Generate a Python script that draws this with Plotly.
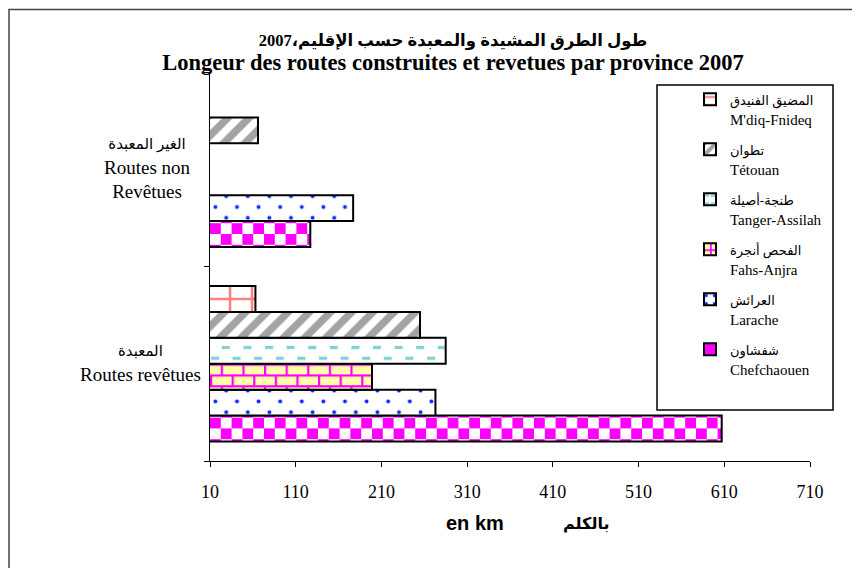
import plotly.graph_objects as go

# ---------------- data ----------------
categories = ["Routes revêtues", "Routes non Revêtues"]
category_ar = ["المعبدة", "الغير المعبدة"]
category_fr = ["Routes revêtues", "Routes non<br>Revêtues"]
provinces_fr = ["Chefchaouen", "Larache", "Fahs-Anjra", "Tanger-Assilah", "Tétouan", "M'diq-Fnideq"]
provinces_ar = ["شفشاون", "العرائش", "الفحص أنجرة", "طنجة-أصيلة", "تطوان", "المضيق الفنيدق"]
paved_km = [607, 273, 199, 285, 255, 63]
unpaved_km = [127, 177, None, None, 66, None]
x_ticks = [10, 110, 210, 310, 410, 510, 610, 710]

title_ar = "طول الطرق المشيدة والمعبدة حسب الإقليم،2007"
title_fr = "Longeur des routes construites et revetues par province 2007"

# ---------------- geometry ----------------
# the page has an 8px body margin, so the figure is drawn 8px smaller
W, H = 852, 560
OFF = 8


def px_x(X):  # page pixel -> paper x
    return (X - 210) / 600


def px_y(Y):  # page pixel -> paper y
    return (461 - Y) / 389


SERIF = "Liberation Serif, DejaVu Sans, serif"
patterns = [
    dict(path="M0,0H10.8V10.8H0ZM10.8,10.8H21.6V21.6H10.8Z", size=21.6,
         fgcolor="#FF00FF", bgcolor="white", solidity=1, fgopacity=1),
    dict(path="M3.4,5.4a2,2 0 1,0 4,0a2,2 0 1,0 -4,0ZM14.2,16.2a2,2 0 1,0 4,0a2,2 0 1,0 -4,0Z",
         size=21.6, fgcolor="#0A28FF", bgcolor="white", solidity=1, fgopacity=1),
    dict(path="M0,0H21.6V2.2H0ZM0,10.8H21.6V13H0ZM0,0H2.2V10.8H0ZM10.8,10.8H13V21.6H10.8Z",
         size=21.6, fgcolor="#FF00FF", bgcolor="#FFFFAA", solidity=1, fgopacity=1),
    dict(path="M1,4H9V7H1ZM11.8,14.8H19.8V17.8H11.8Z", size=21.6,
         fgcolor="#7FD2D2", bgcolor="white", solidity=1, fgopacity=1),
    dict(shape="/", size=15, fgcolor="#A3A3A3", bgcolor="white", solidity=0.5, fgopacity=1),
    dict(path="M18.8,0H21.3V22H18.8ZM0,5.8H22V8.3H0Z", size=22,
         fgcolor="#FF8080", bgcolor="white", solidity=1, fgopacity=1),
]

fig = go.Figure()
n = len(provinces_fr)
for i, (fr, ar) in enumerate(zip(provinces_fr, provinces_ar)):
    fig.add_trace(go.Bar(
        y=categories,
        x=[paved_km[i], unpaved_km[i]],
        orientation="h",
        name=f"<span style='font-size:13px'>{ar}</span><br>{fr}",
        legendgroup=fr,
        legendrank=n - i,
        marker=dict(color="white", pattern=patterns[i],
                    line=dict(color="black", width=2)),
    ))

fig.update_layout(
    width=W, height=H,
    margin=dict(l=210 - OFF, r=50, t=72 - OFF, b=H - (461 - OFF)),
    paper_bgcolor="white", plot_bgcolor="white",
    barmode="group", bargap=0.2, bargroupgap=0,
    font=dict(family=SERIF, color="black"),
    title=dict(
        text=(f"<b><span style='font-size:16.5px'>{title_ar}</span></b><br>"
              f"<b><span style='font-size:22.5px'>{title_fr}</span></b>"),
        x=px_x(453), xref="paper", xanchor="center",
        y=1 - (46 - OFF) / H, yref="container", yanchor="top",
        font=dict(family=SERIF, size=18.5, color="black"),
    ),
    xaxis=dict(
        range=[10, 710], tickvals=x_ticks, ticktext=[str(v) for v in x_ticks],
        showline=True, linecolor="black", linewidth=1,
        ticks="outside", ticklen=5, tickcolor="black",
        showgrid=False, zeroline=False,
        tickfont=dict(family=SERIF, size=18),
        ticklabelstandoff=9,
    ),
    yaxis=dict(
        range=[-0.5, 1.5], categoryorder="array", categoryarray=categories,
        showline=True, linecolor="black", linewidth=1,
        ticks="outside", ticklen=5, tickson="boundaries", tickcolor="black",
        showticklabels=False, showgrid=False,
    ),
    legend=dict(
        x=px_x(690), y=px_y(83), xanchor="left", yanchor="top",
        traceorder="grouped", tracegroupgap=8, valign="top",
        bgcolor="rgba(0,0,0,0)", borderwidth=0,
        font=dict(family=SERIF, size=15, color="black"),
    ),
    showlegend=True,
)

# category labels
label_x = [140, 147]
for cat, ar, fr, lx in zip(categories, category_ar, category_fr, label_x):
    fig.add_annotation(x=px_x(lx), xref="paper", y=cat, yref="y",
                       text=f"<span style='font-size:15px'>{ar}</span><br>{fr}",
                       showarrow=False, xanchor="center", yanchor="middle",
                       align="center", font=dict(family=SERIF, size=19))

# axis title pieces
fig.add_annotation(x=px_x(475), xref="paper", y=px_y(523), yref="paper",
                   text="<b>en km</b>", showarrow=False, xanchor="center", yanchor="middle",
                   font=dict(family="Liberation Sans, Arial, sans-serif", size=20))
fig.add_annotation(x=px_x(586), xref="paper", y=px_y(523), yref="paper",
                   text="<b>بالكلم</b>", showarrow=False, xanchor="center", yanchor="middle",
                   font=dict(family="DejaVu Sans, sans-serif", size=16))

# legend frame and outer chart frame
fig.add_shape(type="rect", xref="paper", yref="paper",
              x0=px_x(657), x1=px_x(833), y0=px_y(410), y1=px_y(85),
              line=dict(color="black", width=1.5), fillcolor="rgba(0,0,0,0)")
fig.add_shape(type="rect", xref="paper", yref="paper",
              x0=px_x(9), x1=1.3, y0=-0.5, y1=px_y(9.5),
              line=dict(color="#444444", width=1.5), fillcolor="rgba(0,0,0,0)",
              layer="below")

fig.write_html("out.html")
